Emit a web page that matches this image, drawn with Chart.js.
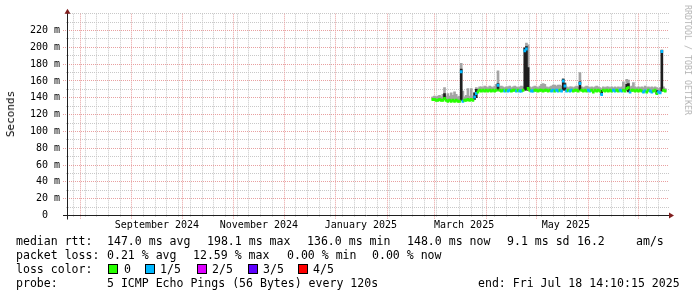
<!DOCTYPE html>
<html><head><meta charset="utf-8">
<script src="https://cdn.jsdelivr.net/npm/chart.js@4.4.0/dist/chart.umd.min.js"></script>
<style>
html,body{margin:0;padding:0;background:#fff;}
#wrap{position:relative;width:697px;height:297px;overflow:hidden;background:#fff;}
canvas{position:absolute;left:0;top:0;}
.t{position:absolute;font-family:"DejaVu Sans Mono",monospace;font-size:11.55px;line-height:14px;white-space:pre;color:#000;}
.box{position:absolute;top:264px;width:10px;height:10px;box-sizing:border-box;border:1px solid #000;}
.rot{position:absolute;font-family:"DejaVu Sans Mono",monospace;white-space:pre;}
</style></head><body>
<div id="wrap">
<canvas id="c" width="697" height="297"></canvas>
<div class="rot" style="left:10.5px;top:114px;font-size:11px;line-height:12px;color:#000;transform:translate(-50%,-50%) rotate(-90deg);">Seconds</div>
<div class="rot" style="left:688px;top:60px;font-size:8.3px;line-height:10px;color:#b4b4b4;transform:translate(-50%,-50%) rotate(90deg);">RRDTOOL / TOBI OETIKER</div>

<span class="t" style="left:16px;top:233.5px">median rtt:</span>
<span class="t" style="left:107px;top:233.5px">147.0 ms avg</span>
<span class="t" style="left:207px;top:233.5px">198.1 ms max</span>
<span class="t" style="left:307px;top:233.5px">136.0 ms min</span>
<span class="t" style="left:407px;top:233.5px">148.0 ms now</span>
<span class="t" style="left:507px;top:233.5px">9.1 ms sd</span>
<span class="t" style="left:577px;top:233.5px">16.2</span>
<span class="t" style="left:636px;top:233.5px">am/s</span>

<span class="t" style="left:16px;top:247.5px">packet loss:</span>
<span class="t" style="left:107px;top:247.5px">0.21 % avg</span>
<span class="t" style="left:193px;top:247.5px">12.59 % max</span>
<span class="t" style="left:287px;top:247.5px">0.00 % min</span>
<span class="t" style="left:372px;top:247.5px">0.00 % now</span>

<span class="t" style="left:16px;top:261.5px">loss color:</span>
<div class="box" style="left:108px;background:#26ff00"></div><span class="t" style="left:124px;top:261.5px">0</span>
<div class="box" style="left:145px;background:#00b8ff"></div><span class="t" style="left:160px;top:261.5px">1/5</span>
<div class="box" style="left:197px;background:#dd00ff"></div><span class="t" style="left:212px;top:261.5px">2/5</span>
<div class="box" style="left:248px;background:#5e00ff"></div><span class="t" style="left:263px;top:261.5px">3/5</span>
<div class="box" style="left:298px;background:#ff0000"></div><span class="t" style="left:313px;top:261.5px">4/5</span>

<span class="t" style="left:16px;top:276px">probe:</span>
<span class="t" style="left:107px;top:276px">5 ICMP Echo Pings (56 Bytes) every 120s</span>
<span class="t" style="left:478px;top:276px">end: Fri Jul 18 14:10:15 2025</span>
</div>
<script>
// ---- data (days counted from 2025-01-01) ----
const firstDay = 58; // 2025-02-27, one value per day up to 2025-07-17
const medianRtt = [
 138,138,137,137,138,137,137,139,137,136,
 137,136,137,136,137,136,136,171,136,137,
 137,138,137,138,137,141,145,147,149,148,
 149,148,149,148,149,148,149,148,149,155,
 149,148,149,148,149,148,149,148,149,149,
 148,149,148,148,149,196,198,151,149,148,
 148,149,149,148,149,149,148,149,149,148,
 149,148,149,148,149,148,149,148,160,154,
 148,149,148,149,148,149,149,148,157,149,
 148,149,148,149,148,149,147,149,148,149,
 148,144,149,148,149,148,149,148,149,148,
 149,148,149,148,149,148,151,152,147,149,
 149,148,149,148,149,148,147,148,147,149,
 148,147,148,149,145,147,146,195,149,148
];
const smokeTop = [
 141,142,141,142,143,141,144,152,142,145,
 142,146,143,147,144,141,142,181,148,141,
 143,151,142,151,142,146,152,151,153,153,
 152,154,153,152,154,153,152,154,156,172,
 153,154,153,152,153,153,154,152,153,154,
 153,152,153,154,153,200,205,203,153,152,
 153,154,153,152,154,156,157,156,153,152,
 153,154,155,155,154,155,155,154,163,158,
 153,152,153,153,152,153,154,153,170,153,
 152,153,154,153,152,153,152,153,154,153,
 152,151,153,152,153,153,152,153,152,153,
 152,153,152,153,159,153,162,161,153,154,
 158,153,152,153,152,153,152,154,152,153,
 152,153,152,153,152,151,152,197,153,151
];
const lossLevel = [
 0,0,0,0,0,0,0,0,0,0,
 0,0,0,0,0,0,0,1,1,0,
 0,0,0,0,0,1,1,0,0,0,
 0,0,0,0,0,0,0,0,0,1,
 0,0,0,1,0,1,1,0,0,0,
 1,0,1,1,0,1,1,0,0,1,
 1,0,0,0,0,0,0,0,0,0,
 0,1,1,0,1,1,0,1,1,1,
 1,0,1,1,0,0,0,0,1,0,
 0,0,0,1,1,0,0,0,0,0,
 0,1,0,0,0,0,0,0,1,1,
 0,0,1,1,0,0,0,0,1,0,
 0,0,0,0,0,0,1,1,0,0,
 1,1,0,0,0,1,1,1,0,0
];
// dense (dark) smoke: [day, low, high]
const darkSmoke = [
 [65,138,145],[75,137,174],[83,138,146],[84,140,150],[97,149,157],
 [113,149,199],[114,149,201],[115,149,176],[136,149,162],[137,149,157],
 [146,149,159],[159,144,149],[174,149,156],[175,147,157],[192,145,149],[195,148,196]
];
const lossColors = ['#26ff00','#00b8ff','#dd00ff','#5e00ff','#ff0000'];
const lossNames = ['0','1/5','2/5','3/5','4/5'];

// axis definitions
const xMinDay = -160.81, xMaxDay = 198.08;
const monthStartDays = [-153,-122,-92,-61,-31,0,31,59,90,120,151,181];
const monthLabels = ['September 2024','November 2024','January 2025','March 2025','May 2025'];
const monthLabelDays = [-107,-46,15,76.7,137.6];
const yTicks = [0,20,40,60,80,100,120,140,160,180,200,220];
const yTickLabels = ['0  ','20 m','40 m','60 m','80 m','100 m','120 m','140 m','160 m','180 m','200 m','220 m'];
const yMinorTicks = [10,30,50,70,90,110,130,150,170,190,210,230,240];

// ---- build datasets ----
const days = medianRtt.map((_, i) => firstDay + i);
const smokeData = days.map((d, i) => ({x: d, y: [medianRtt[i], smokeTop[i]]}));
const darkData = darkSmoke.map(r => ({x: r[0], y: [r[1], r[2]]}));
const medData = days.map((d, i) => ({x: d, y: [medianRtt[i] - 1.4, medianRtt[i] + 1.4]}));
const medColors = lossLevel.map(l => lossColors[l]);

// Sundays for weekly minor grid
const weekDays = [];
for (let d = -3; d >= xMinDay; d -= 7) weekDays.push(d);
for (let d = 4; d <= xMaxDay; d += 7) weekDays.push(d);

const GRID_MINOR = '#c8c8c8', GRID_MAJOR = '#e8a0a0';

const rrdGrid = {
  id: 'rrdGrid',
  beforeDatasetsDraw(chart) {
    const {ctx, chartArea: a, scales: {x, y}} = chart;
    ctx.save();
    ctx.lineWidth = 1;
    ctx.setLineDash([1, 1]);
    const v = (val, y0, y1, c) => {
      const px = Math.floor(x.getPixelForValue(val)) + 0.5;
      ctx.strokeStyle = c; ctx.beginPath(); ctx.moveTo(px, y0); ctx.lineTo(px, y1); ctx.stroke();
    };
    const h = (val, x0, x1, c) => {
      const py = Math.floor(y.getPixelForValue(val)) + 0.5;
      ctx.strokeStyle = c; ctx.beginPath(); ctx.moveTo(x0, py); ctx.lineTo(x1, py); ctx.stroke();
    };
    weekDays.forEach(d => { if (!monthStartDays.includes(d)) v(d, a.top, a.bottom + 2, GRID_MINOR); });
    yMinorTicks.forEach(t => h(t, a.left - 1, a.right + 2, GRID_MINOR));
    monthStartDays.forEach(d => { if (d > xMinDay && d < xMaxDay) v(d, a.top, a.bottom + 4, GRID_MAJOR); });
    yTicks.forEach(t => { if (t > 0) h(t, a.left - 4, a.right + 2, GRID_MAJOR); });
    ctx.restore();
  },
  afterDraw(chart) {
    const {ctx, chartArea: a} = chart;
    ctx.save();
    const ax = Math.floor(a.left) + 0.5, ay = Math.floor(a.bottom) + 0.5;
    ctx.strokeStyle = 'rgb(31,31,31)';
    ctx.lineWidth = 1;
    ctx.beginPath();
    ctx.moveTo(ax, a.top - 1); ctx.lineTo(ax, ay + 4);
    ctx.moveTo(a.left - 4, ay); ctx.lineTo(a.right + 3, ay);
    ctx.stroke();
    ctx.fillStyle = 'rgb(128,31,31)';
    ctx.beginPath();
    ctx.moveTo(ax, a.top - 5); ctx.lineTo(ax - 3, a.top); ctx.lineTo(ax + 3, a.top); ctx.closePath(); ctx.fill();
    ctx.beginPath();
    ctx.moveTo(a.right + 7, ay); ctx.lineTo(a.right + 2, ay - 3); ctx.lineTo(a.right + 2, ay + 3); ctx.closePath(); ctx.fill();
    ctx.restore();
  }
};

const tickFont = {family: 'DejaVu Sans Mono', size: 10};

new Chart(document.getElementById('c'), {
  type: 'bar',
  data: {datasets: [
    {label: 'median rtt', data: medData, backgroundColor: medColors, order: 0},
    {label: 'dense smoke', data: darkData, backgroundColor: '#1e1e1e', order: 1},
    {label: 'smoke', data: smokeData, backgroundColor: '#a4a4a4', order: 2}
  ]},
  options: {
    responsive: false, animation: false, devicePixelRatio: 1,
    layout: {padding: {left: 0, right: 30, top: 13.7, bottom: 0}},
    datasets: {bar: {grouped: false, barThickness: 2, borderWidth: 0}},
    plugins: {legend: {display: false}, tooltip: {enabled: false}, title: {display: false}},
    scales: {
      x: {
        type: 'linear', min: xMinDay, max: xMaxDay, offset: false,
        grid: {display: false, drawTicks: false}, border: {display: false},
        afterBuildTicks: s => { s.ticks = monthLabelDays.map(v => ({value: v})); },
        afterFit: s => { s.height = 81.5; },
        ticks: {autoSkip: false, maxRotation: 0, minRotation: 0, padding: 4, color: '#000', font: tickFont,
          callback: (val, i) => monthLabels[i]}
      },
      y: {
        type: 'linear', min: 0, max: 240,
        grid: {display: false, drawTicks: false}, border: {display: false},
        afterBuildTicks: s => { s.ticks = yTicks.map(v => ({value: v})); },
        afterFit: s => { s.width = 67; },
        ticks: {autoSkip: false, padding: 7, color: '#000', font: tickFont,
          callback: (val, i) => yTickLabels[i]}
      }
    }
  },
  plugins: [rrdGrid]
});
</script>
</body></html>
